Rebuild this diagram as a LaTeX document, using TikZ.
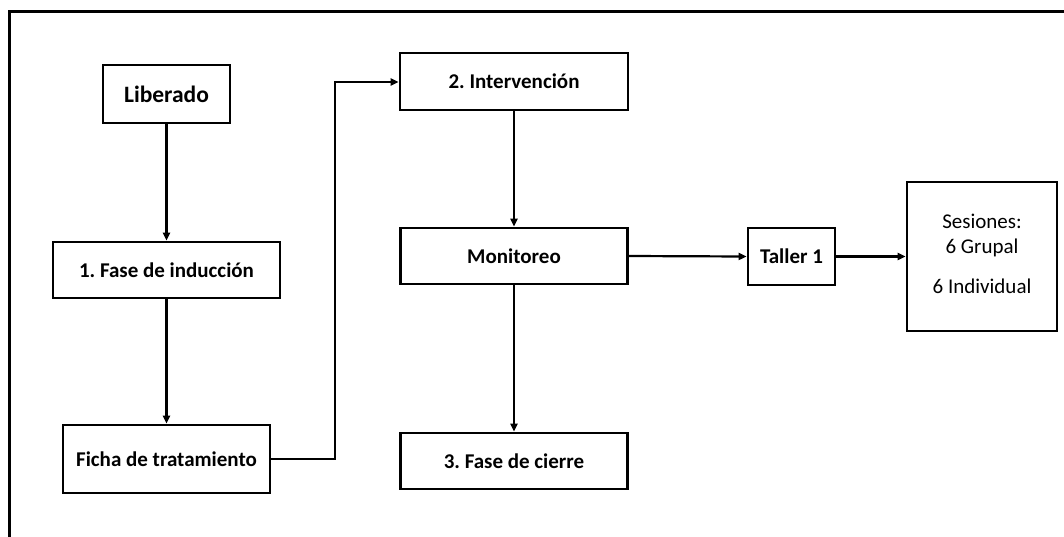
\documentclass[tikz,border=0pt]{standalone}
\usepackage{fontspec}
\setmainfont{Carlito}
\usetikzlibrary{arrows.meta}
\frenchspacing
\begin{document}
\begin{tikzpicture}[x=1pt,y=-1pt,
  box/.style={draw,line width=2.8pt,inner sep=0pt,font=\fontsize{21}{25}\selectfont\bfseries},
  txt/.style={inner sep=0pt,anchor=base,font=\fontsize{21}{25}\selectfont},
  conn/.style={line width=2.2pt,-{Triangle[length=8pt,width=7pt]}}]
\useasboundingbox (0,0) rectangle (1064,536);
\begin{scope}
\clip (0,0) rectangle (1064,536);
\draw[line width=3pt] (9.5,560) -- (9.5,11.5) -- (1080,11.5);
\end{scope}
\node[box,font=\fontsize{23.5}{28}\selectfont\bfseries,minimum width=127pt,minimum height=58pt] (lib) at (166.5,94) {Liberado};
\node[box,minimum width=227pt,minimum height=56pt] (ind) at (166.5,270) {1. Fase de inducción};
\node[box,minimum width=207pt,minimum height=68pt] (fic) at (166.5,459) {Ficha de tratamiento};
\node[box,minimum width=228pt,minimum height=57pt] (int) at (514,81.5) {2. Intervención};
\node[box,minimum width=227pt,minimum height=56pt] (mon) at (514,256) {Monitoreo};
\node[box,minimum width=227pt,minimum height=56pt] (cie) at (514,461) {3. Fase de cierre};
\node[box,minimum width=87pt,minimum height=57pt] (tal) at (791.5,256.5) {Taller 1};
\node[box,minimum width=150pt,minimum height=149pt] (ses) at (982,256.5) {};
\node[txt] (s1) at (982,228) {Sesiones:};
\node[txt] (s2) at (982,253) {6 Grupal};
\node[txt] (s3) at (982,293) {6 Individual};
\coordinate (c1) at (335,459);
\coordinate (c2) at (335,82);
\draw[conn] (lib) -- (ind);
\draw[conn] (ind) -- (fic);
\draw[conn] (fic.east) -- (c1) -- (c2) -- (int.west|-c2);
\draw[conn] (int) -- (mon);
\draw[conn] (mon) -- (cie);
\draw[conn] (mon.east) -- (tal.west);
\draw[conn] (tal.east) -- (ses.west|-tal.east);
\end{tikzpicture}
\end{document}
